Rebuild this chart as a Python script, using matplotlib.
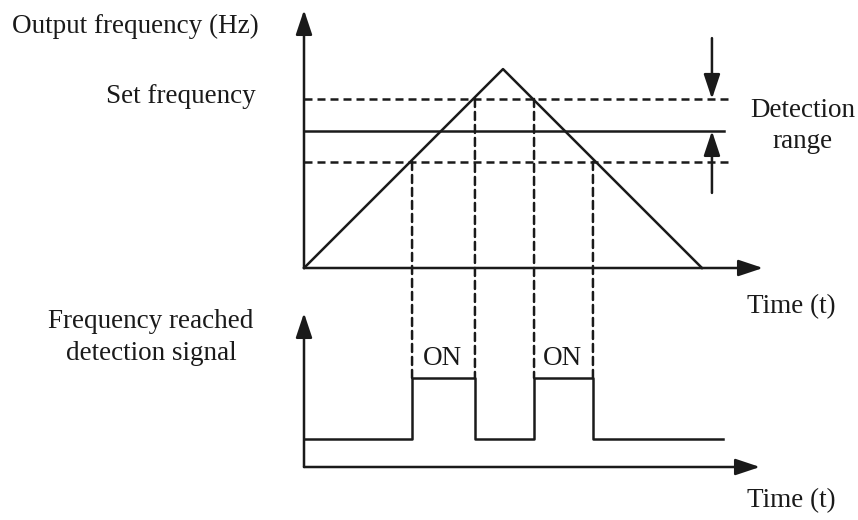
import matplotlib.pyplot as plt
from matplotlib.patches import ConnectionPatch

plt.rcParams['font.family'] = ['Liberation Serif', 'DejaVu Serif']

# ramp profile (time in s, frequency in Hz)
ramp_t = [0, 10, 20]
ramp_f = [0, 72.6, 0]
f_set = 50.0
f_high = 61.7
f_low = 38.7

# moments the detection signal switches
edge_t = [5.43, 8.59, 11.56, 14.52]
edge_f = [f_low, f_high, f_high, f_low]
sig_t = [0, 5.43, 5.43, 8.59, 8.59, 11.56, 11.56, 14.52, 14.52, 21.06]
sig_v = [0, 0, 1, 1, 0, 0, 1, 1, 0, 0]

W, H = 858, 520
PX_T = 19.9      # px per second
PX_F = 2.74      # px per Hz
PX_S = 61.0      # px per signal unit

fig = plt.figure(figsize=(W / 100, H / 100), dpi=100)

def px_axes(x0, y_bottom, y_top, width):
    return fig.add_axes([x0 / W, 1 - y_bottom / H, width / W, (y_bottom - y_top) / H])

# upper panel: origin at (304, 268)
ax1 = px_axes(304, 268, 10, 459)
ax1.set_xlim(0, 459 / PX_T)
ax1.set_ylim(0, 258 / PX_F)
# lower panel: origin at (304, 467), low level 28 px above the axis
ax2 = px_axes(304, 467, 313, 456)
ax2.set_xlim(0, 456 / PX_T)
ax2.set_ylim(-28 / PX_S, (154 - 28) / PX_S)
for ax in (ax1, ax2):
    ax.axis('off')

LW = 1.8
DASH = (0, (3.2, 2))
arrow = dict(arrowstyle='-|>,head_length=1.5,head_width=0.5', color='#1a1a1a',
             lw=LW, shrinkA=0, shrinkB=0, mutation_scale=10)

def axis_arrows(ax, y_base):
    x1 = ax.get_xlim()[1]
    y0, y1 = ax.get_ylim()
    ax.annotate('', xy=(x1, y_base), xytext=(0, y_base), arrowprops=arrow, annotation_clip=False)
    ax.annotate('', xy=(0, y1), xytext=(0, y0), arrowprops=arrow, annotation_clip=False)

axis_arrows(ax1, 0)
axis_arrows(ax2, ax2.get_ylim()[0])

ax1.plot(ramp_t, ramp_f, color='#1a1a1a', lw=LW, clip_on=False)
ax1.plot([0, 21.1], [f_set, f_set], color='#1a1a1a', lw=LW, clip_on=False)
for f in (f_high, f_low):
    ax1.plot([0, 21.4], [f, f], color='#1a1a1a', lw=LW, ls=DASH, clip_on=False)

# detection range arrows
ax1.annotate('', xy=(20.5, f_high), xytext=(20.5, 83.9), arrowprops=arrow, annotation_clip=False)
ax1.annotate('', xy=(20.5, f_set), xytext=(20.5, 27.4), arrowprops=arrow, annotation_clip=False)

ax2.plot(sig_t, sig_v, color='#1a1a1a', lw=LW, clip_on=False)

for t, f in zip(edge_t, edge_f):
    con = ConnectionPatch(xyA=(t, f), coordsA=ax1.transData, xyB=(t, 1), coordsB=ax2.transData,
                          color='#1a1a1a', lw=LW, ls=DASH)
    fig.add_artist(con)

fs = 19.5
def txt(x, y, s, ha='center'):
    # y is the text baseline in pixels from the top
    fig.text(x / W, 1 - y / H, s, ha=ha, va='baseline', fontsize=fs, color='#1a1a1a')

txt(12, 33, 'Output frequency (Hz)', ha='left')
txt(256, 103, 'Set frequency', ha='right')
txt(803, 117, 'Detection')
txt(803, 148, 'range')
txt(791, 313, 'Time (t)')
txt(791, 507, 'Time (t)')
txt(151, 328, 'Frequency reached')
txt(151, 360, 'detection signal')
txt(442, 365, 'ON')
txt(562, 365, 'ON')

fig.savefig('out.png', dpi=100)
